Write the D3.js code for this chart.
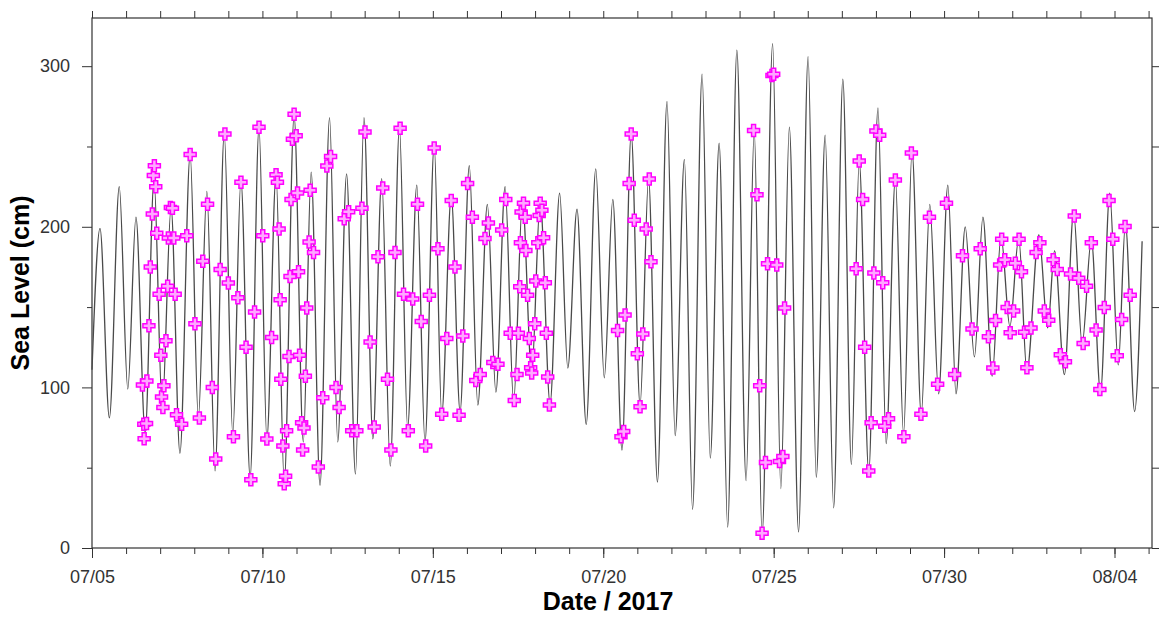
<!DOCTYPE html>
<html><head><meta charset="utf-8">
<script src="https://cdn.jsdelivr.net/npm/d3@7"></script>
<style>body{margin:0;background:#fff;} svg{display:block;}</style>
</head><body><svg id="c" width="1159" height="617"></svg>
<script>
// Tide curve extremes: days after 2017-07-05 00:00 and sea level (cm)
const tideDays = [0,0.235,0.51,0.80,1.05,1.29,1.56,1.82,2.06,2.32,2.58,2.88,3.12,3.37,3.61,3.88,4.13,4.37,4.64,4.90,
5.13,5.40,5.64,5.93,6.20,6.43,6.69,6.97,7.21,7.47,7.73,7.98,8.24,8.50,8.75,9.02,9.26,9.53,9.77,10.04,
10.26,10.54,10.80,11.07,11.32,11.60,11.85,12.12,12.37,12.63,12.90,13.15,13.44,13.72,13.96,14.23,14.50,14.78,15.03,15.28,
15.55,15.82,16.08,16.33,16.59,16.87,17.11,17.38,17.62,17.90,18.14,18.40,18.65,18.92,19.19,19.43,19.66,19.97,20.21,20.46,
20.73,21.01,21.25,21.51,21.76,22.03,22.28,22.51,22.79,23.06,23.30,23.57,23.81,24.06,24.33,24.58,24.84,25.11,25.35,25.62,
25.89,26.14,26.41,26.67,26.93,27.19,27.43,27.78,28.04,28.24,28.53,28.80,29.05,29.32,29.59,29.86,30.11,30.32,30.59,30.81];
const tideLevels = [111,199,81,225,99,206,72,229,88,212,59,245,81,222,48,258,71,229,44,262,
68,232,41,269,66,234,39,268,66,233,46,268,68,230,51,262,75,226,66,251,
83,219,85,238,89,214,97,225,91,216,109,216,90,221,112,211,77,236,106,217,
61,258,89,230,41,278,70,242,24,295,56,252,13,310,42,260,8,314,37,262,
10,306,44,257,25,292,52,241,47,274,65,230,71,247,83,214,96,226,96,200,
119,206,107,194,138,193,110,195,137,185,108,209,127,192,97,221,114,202,85,191];

// Observations (magenta crosses)
const obsDays = [1.48,1.52,1.53,1.60,1.61,1.67,1.71,1.77,1.80,1.83,1.87,1.90,1.97,2.02,2.04,2.08,2.11,2.17,2.22,2.24,
2.30,2.36,2.40,2.44,2.48,2.63,2.78,2.88,3.02,3.15,3.25,3.39,3.53,3.63,3.76,3.90,4.00,4.15,4.28,4.37,
4.52,4.66,4.77,4.90,5.01,5.13,5.27,5.40,5.44,5.49,5.52,5.54,5.60,5.64,5.68,5.71,5.78,5.81,5.84,5.88,
5.93,5.99,6.03,6.06,6.09,6.15,6.18,6.22,6.26,6.30,6.37,6.40,6.50,6.64,6.77,6.89,7.00,7.16,7.25,7.40,
7.53,7.62,7.77,7.92,8.01,8.16,8.28,8.39,8.53,8.67,8.77,8.89,9.04,9.14,9.28,9.41,9.55,9.66,9.79,9.90,
10.04,10.15,10.26,10.41,10.54,10.65,10.77,10.88,11.02,11.16,11.26,11.39,11.53,11.63,11.76,11.91,12.02,12.14,12.27,12.39,
12.47,12.51,12.55,12.57,12.59,12.66,12.71,12.73,12.78,12.83,12.87,12.90,12.93,12.99,13.02,13.08,13.12,13.15,13.20,13.25,
13.30,13.33,13.37,13.42,15.42,15.52,15.60,15.64,15.76,15.82,15.91,16.00,16.08,16.16,16.26,16.35,16.40,19.41,19.51,19.59,
19.66,19.76,19.82,19.95,20.00,20.09,20.17,20.27,20.32,22.42,22.51,22.61,22.67,22.79,22.86,22.94,23.00,23.11,23.20,23.26,
23.37,23.57,23.82,24.04,24.32,24.57,24.81,25.07,25.31,25.54,25.82,26.06,26.30,26.43,26.51,26.63,26.69,26.78,26.85,26.94,
27.04,27.09,27.20,27.27,27.36,27.43,27.55,27.70,27.81,27.94,28.07,28.20,28.32,28.41,28.56,28.71,28.82,28.95,29.08,29.18,
29.32,29.46,29.57,29.70,29.84,29.95,30.08,30.21,30.31,30.46];
const obsLevels = [101.5,77,68,77.5,104,138.4,175,208,232,238,225,196,158,120,94,87.5,101,129,163,193,
212,211.6,193,158,83,77,194.4,245,139.7,81,178.5,214,100,55.4,173.4,257.7,165,69.3,155.8,227.7,
125,42.5,147,262,194.4,67.8,131,232.4,227.7,198.7,154.5,105,63.5,40,44.6,73,119.3,169,217,254.5,
270,256.7,221,172,120,78,61,74.7,107,149.4,190.6,222.7,184,50.4,93.6,237.8,243.8,100,87.5,205,
209.4,73,73,211.6,259,128.3,75.3,181.3,224.2,105,61,184,261.4,158,73,155,214,141,63.5,157.3,
249,186.3,83.3,130.5,216.3,175,82.6,132,227,206,104.3,108,192.7,202.4,115.5,114.4,198,217,133.7,91.8,
108,133.7,162.7,190,209.2,214.6,206,185.2,157.3,130.5,112.2,109,120,139.7,166.3,190,207,214.6,210.3,193.1,
165.2,133.7,106.4,89,135.4,69.3,72.5,145,227,257.7,204,121,88,133.3,198.7,229.8,178.3,260,220,101,
9.2,53.2,177,294.2,295,176.2,53.9,56.9,149.4,173.8,241,217,125,48,78,171.2,259.7,257,165.2,75.8,
80.5,229.2,69.3,246,83.3,206,102,214.6,108,182,136.3,186.3,131.6,112,141.6,176.2,192.3,179.4,149.8,134,
147.6,177.3,192.3,172,134.3,112.2,137,184,190,147.6,141.8,179.4,173.4,120.4,116,170.6,206.7,168,127.3,163,
190,135.8,98.7,149.8,216.3,192.3,119.7,142.3,200.2,157.3];

const majorTickDays = [0,5,10,15,20,25,30];
const tickLabels = ["07/05","07/10","07/15","07/20","07/25","07/30","08/04"];
const yMajorTicks = [0,100,200,300];
const yMinorTicks = [50,150,250];
const yRightTicks = [0,50,100,150,200,250,300];

const base = Date.UTC(2017,6,5);
const toDate = d => new Date(base + d*864e5);
const L=92, R=1152, T=18, B=548;
const x = d3.scaleUtc().domain([toDate(0), toDate(31.1)]).range([L,R]);
const y = d3.scaleLinear().domain([0,330]).range([B,T]);

const svg = d3.select("#c");
svg.append("rect").attr("width",1159).attr("height",617).attr("fill","#fff");

function styleAxis(g){
  g.select(".domain").remove();
  g.selectAll(".tick line").attr("stroke","#333").attr("stroke-width",1);
  g.selectAll("text").attr("font-family","'Liberation Sans', Arial, sans-serif").attr("font-size",18).attr("fill","#333");
}
const dayTicks = d3.range(0,32).map(toDate);
svg.append("g").attr("transform",`translate(0,${B})`)
  .call(d3.axisBottom(x).tickValues(dayTicks).tickSize(6).tickFormat(""))
  .call(styleAxis);
svg.append("g").attr("transform",`translate(0,${B})`)
  .call(d3.axisBottom(x).tickValues(majorTickDays.map(toDate)).tickSize(10).tickPadding(12).tickFormat((d,i)=>tickLabels[i]))
  .call(styleAxis);
svg.append("g").attr("transform",`translate(0,${T})`)
  .call(d3.axisTop(x).tickValues(dayTicks).tickSize(7).tickFormat(""))
  .call(styleAxis);
svg.append("g").attr("transform",`translate(${L},0)`)
  .call(d3.axisLeft(y).tickValues(yMajorTicks).tickSize(10).tickPadding(12))
  .call(styleAxis);
svg.append("g").attr("transform",`translate(${L},0)`)
  .call(d3.axisLeft(y).tickValues(yMinorTicks).tickSize(5).tickFormat(""))
  .call(styleAxis);
svg.append("g").attr("transform",`translate(${R},0)`)
  .call(d3.axisRight(y).tickValues(yRightTicks).tickSize(8).tickFormat(""))
  .call(styleAxis);

svg.append("rect").attr("x",L).attr("y",T).attr("width",R-L).attr("height",B-T)
  .attr("fill","none").attr("stroke","#333").attr("stroke-width",1.2);

const tide = tideDays.map((d,i)=>({t:toDate(d), v:tideLevels[i]}));
svg.append("path").datum(tide)
  .attr("d", d3.line().x(d=>x(d.t)).y(d=>y(d.v)).curve(d3.curveMonotoneX))
  .attr("fill","none").attr("stroke","#4a4a4a").attr("stroke-width",1.3);

const obs = obsDays.map((d,i)=>({t:toDate(d), v:obsLevels[i]}));
const sym = d3.symbol().type(d3.symbolCross).size(80);
svg.append("g").selectAll("path").data(obs).join("path")
  .attr("transform", d=>`translate(${x(d.t)},${y(d.v)})`)
  .attr("d", sym)
  .attr("fill","#ffa8ff").attr("stroke","#ff00ff").attr("stroke-width",1.5);

svg.append("text").attr("transform",`translate(22,${(T+B)/2}) rotate(-90)`)
  .attr("text-anchor","middle").attr("dominant-baseline","middle")
  .attr("font-family","'Liberation Sans', Arial, sans-serif").attr("font-weight","bold").attr("font-size",25)
  .attr("fill","#000").text("Sea Level (cm)");
svg.append("text").attr("x",608).attr("y",610)
  .attr("text-anchor","middle")
  .attr("font-family","'Liberation Sans', Arial, sans-serif").attr("font-weight","bold").attr("font-size",25)
  .attr("fill","#000").text("Date / 2017");
</script></body></html>
